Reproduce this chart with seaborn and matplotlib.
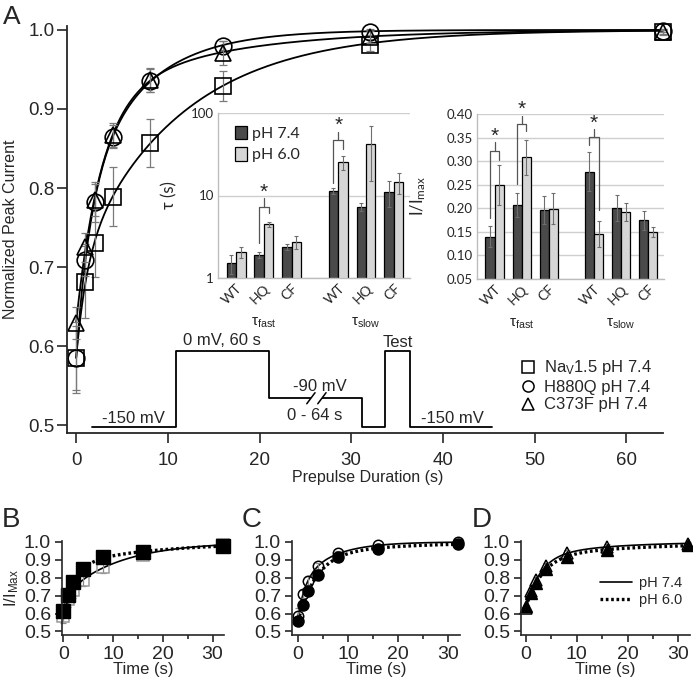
import numpy as np
import pandas as pd
import seaborn as sns
import matplotlib.pyplot as plt
from matplotlib.lines import Line2D
from matplotlib.ticker import MultipleLocator, FixedLocator, FormatStrFormatter, NullLocator

sns.set_style("ticks")
plt.rcParams['font.family'] = ['Liberation Sans', 'DejaVu Sans']
plt.rcParams['mathtext.default'] = 'regular'

# ---- panel A: recovery at pH 7.4 ----
prepulse_t = [0, 1, 2, 4, 8, 16, 32, 64]
nav15_74 = [0.585, 0.681, 0.730, 0.789, 0.857, 0.929, 0.981, 0.997]
nav15_74_err = [0.04, 0.045, 0.043, 0.037, 0.03, 0.019, 0.008, 0.003]
h880q_74 = [0.585, 0.709, 0.782, 0.865, 0.936, 0.980, 0.997, 0.999]
h880q_74_err = [0.045, 0.02, 0.025, 0.015, 0.015, 0.006, 0.004, 0.002]
c373f_74 = [0.629, 0.725, 0.785, 0.867, 0.937, 0.971, 0.991, 0.998]
c373f_74_err = [0.02, 0.018, 0.02, 0.015, 0.015, 0.015, 0.008, 0.003]

# voltage protocol sketch (drawn in panel A data units)
protocol_t = [1.7, 10.9, 10.9, 21.0, 21.0, 31.2, 31.2, 33.7, 33.7, 36.4, 36.4, 45.3]
protocol_level = [0.497, 0.497, 0.594, 0.594, 0.534, 0.534, 0.497, 0.497, 0.594, 0.594, 0.497, 0.497]
break_t = [25.6, 26.8]

# ---- panels B-D: pH 6.0 vs pH 7.4 ----
time_s = [0, 1, 2, 4, 8, 16, 32]
nav15_60 = [0.614, 0.705, 0.776, 0.848, 0.914, 0.941, 0.979]
h880q_60 = [0.557, 0.648, 0.724, 0.814, 0.918, 0.960, 0.990]
c373f_60 = [0.640, 0.715, 0.772, 0.848, 0.918, 0.956, 0.980]

# ---- insets: fit parameters ----
groups = ["WT", "HQ", "CF", "WT", "HQ", "CF"]
tau_74 = [1.52, 1.9, 2.38, 11.3, 7.3, 11.0]
tau_74_err = [0.4, 0.15, 0.18, 1.0, 0.9, 3.8]
tau_60 = [2.07, 4.5, 2.73, 25.5, 42.0, 14.5]
tau_60_err = [0.3, 0.3, 0.5, 5.0, 27.0, 4.0]
amp_74 = [0.140, 0.207, 0.197, 0.278, 0.200, 0.175]
amp_74_err = [0.023, 0.026, 0.030, 0.042, 0.028, 0.020]
amp_60 = [0.250, 0.308, 0.199, 0.146, 0.192, 0.150]
amp_60_err = [0.042, 0.037, 0.033, 0.028, 0.020, 0.010]

slot = [0, 1, 2, 3.67, 4.67, 5.67]
dark, light = '#4a4a4a', '#d6d6d6'


def recovery_fit(t, y):
    # double exponential fit, grid over taus + linear least squares for amplitudes
    t = np.asarray(t, float)
    r = 1 - np.asarray(y, float)
    best = (np.inf, None)
    for tf in np.geomspace(0.3, 10, 50):
        for ts in np.geomspace(1.0, 80, 50):
            if ts <= tf * 1.2:
                continue
            X = np.column_stack([np.exp(-t / tf), np.exp(-t / ts)])
            coef, *_ = np.linalg.lstsq(X, r, rcond=None)
            if (coef < 0).any():
                continue
            err = ((X @ coef - r) ** 2).sum()
            if err < best[0]:
                best = (err, (tf, ts, coef))
    tf, ts, (af, a_s) = best[1]
    return lambda tt: 1 - af * np.exp(-tt / tf) - a_s * np.exp(-tt / ts)


fig = plt.figure(figsize=(6.93, 6.81), dpi=100)

# ================= panel A =================
ax = fig.add_axes([67 / 693, 1 - 433 / 681, 596 / 693, 407 / 681])
tt = np.linspace(0, 64, 400)
for y in [nav15_74, h880q_74, c373f_74]:
    f = recovery_fit(prepulse_t, y)
    sns.lineplot(x=tt, y=f(tt), color='black', lw=1.3, ax=ax)

for y, e, m, ms in [(nav15_74, nav15_74_err, 's', 11), (h880q_74, h880q_74_err, 'o', 12),
                    (c373f_74, c373f_74_err, '^', 12)]:
    ax.errorbar(prepulse_t, y, yerr=e, fmt='none', ecolor='#7a7a7a', elinewidth=0.9,
                capsize=3, capthick=0.9, clip_on=False)
    ax.plot(prepulse_t, y, ls='none', marker=m, ms=ms, mfc='none', mec='black', mew=1.2,
            clip_on=False)

ax.plot(protocol_t, protocol_level, color='black', lw=1.3)
# axis-break marks on the -90 mV step
ax.plot(break_t, [0.534, 0.534], color='white', lw=3, solid_capstyle='butt')
for bx in break_t:
    ax.plot([bx - 0.45, bx + 0.45], [0.527, 0.541], color='black', lw=1.1)
ax.text(6.2, 0.5025, "-150 mV", ha='center', va='baseline', fontsize=12)
ax.text(15.9, 0.601, "0 mV, 60 s", ha='center', va='baseline', fontsize=12)
ax.text(26.6, 0.5435, "-90 mV", ha='center', va='baseline', fontsize=12)
ax.text(26.0, 0.506, "0 - 64 s", ha='center', va='baseline', fontsize=12)
ax.text(35.1, 0.599, "Test", ha='center', va='baseline', fontsize=12)
ax.text(41.0, 0.5025, "-150 mV", ha='center', va='baseline', fontsize=12)

ax.set_xlim(-1, 64)
ax.set_ylim(0.49, 1.005)
ax.xaxis.set_major_locator(FixedLocator([0, 10, 20, 30, 40, 50, 60]))
ax.yaxis.set_major_locator(FixedLocator([0.5, 0.6, 0.7, 0.8, 0.9, 1.0]))
ax.yaxis.set_major_formatter(FormatStrFormatter('%.1f'))
ax.tick_params(length=7, width=1.2, labelsize=13.5, pad=7)
ax.tick_params(axis='y', pad=2)
for s in ['left', 'bottom']:
    ax.spines[s].set_linewidth(1.3)
sns.despine(ax=ax)
ax.set_xlabel("Prepulse Duration (s)", fontsize=11.5)
ax.set_ylabel("Normalized Peak Current", fontsize=11.5)
ax.xaxis.set_label_coords(0.505, -0.092)
ax.yaxis.set_label_coords(-0.083, 0.5)

handles = [Line2D([], [], ls='none', marker=m, ms=8, mfc='none', mec='black', mew=1.1)
           for m in ['s', 'o', '^']]
fig.legend(handles, ["Na$_V$1.5 pH 7.4", "H880Q pH 7.4", "C373F pH 7.4"],
           loc='upper left', bbox_to_anchor=(511 / 693, 1 - 350 / 681), frameon=False,
           fontsize=12, handlelength=1.0, handletextpad=0.5, labelspacing=0.15,
           borderpad=0)
fig.text(3 / 693, 1 - 24 / 681, "A", fontsize=19)


# ================= insets =================
def bar_inset(rect, v74, e74, v60, e60, logy):
    a = fig.add_axes(rect)
    a.set_facecolor('none')
    df = pd.DataFrame({'slot': slot * 2, 'value': v74 + v60,
                       'pH': ['pH 7.4'] * 6 + ['pH 6.0'] * 6})
    sns.barplot(data=df, x='slot', y='value', hue='pH', native_scale=True, width=0.68,
                palette=[dark, light], saturation=1, edgecolor='black', linewidth=0.9,
                errorbar=None, ax=a, zorder=2)
    if logy:
        a.set_yscale('log')
    centers = []
    for cont, err in zip(a.containers[:2], [e74, e60]):
        xs = [p.get_x() + p.get_width() / 2 for p in cont]
        ys = [p.get_y() + p.get_height() for p in cont]
        a.errorbar(xs, ys, yerr=err, fmt='none', ecolor='#6e6e6e', elinewidth=0.8,
                   capsize=1.5, capthick=0.8, zorder=3)
        centers.append(xs)
    a.set_xlim(-0.65, 6.25)
    a.xaxis.set_major_locator(FixedLocator(slot))
    a.set_xticklabels(groups, rotation=45, ha='right', rotation_mode='anchor')
    a.tick_params(axis='x', length=0, pad=3, labelsize=10, labelfontfamily='Lato')
    a.tick_params(axis='y', length=0, pad=3, labelsize=9.5, labelfontfamily='Lato')
    a.grid(axis='y', color='#cfcfcf', lw=1.0, zorder=0)
    a.set_axisbelow(True)
    sns.despine(ax=a)
    for s in ['left', 'bottom']:
        a.spines[s].set_color('#bdbdbd')
        a.spines[s].set_linewidth(1.0)
    a.set_xlabel('')
    for x, lab in [(1, "τ$_{fast}$"), (4.67, "τ$_{slow}$")]:
        a.text(x, -0.27, lab, transform=a.get_xaxis_transform(), ha='center',
               va='center', fontsize=11)
    return a, centers


def bracket(a, xl, xr, y_left, y_right, y_top, y_stem, y_star):
    kw = dict(color='#555555', lw=0.9, clip_on=False, zorder=4)
    a.plot([xl, xl, xr, xr], [y_left, y_top, y_top, y_right], **kw)
    xm = (xl + xr) / 2
    a.plot([xm, xm], [y_top, y_stem], **kw)
    a.text(xm, y_star, "*", ha='center', va='center', fontsize=15, clip_on=False)


ax1, c1 = bar_inset([218 / 693, 1 - 278 / 681, 192 / 693, 165 / 681],
                    tau_74, tau_74_err, tau_60, tau_60_err, True)
ax1.set_ylim(1, 100)
ax1.yaxis.set_major_locator(FixedLocator([1, 10, 100]))
ax1.yaxis.set_minor_locator(NullLocator())
ax1.set_yticklabels(["1", "10", "100"])
ax1.set_ylabel("τ (s)", fontsize=12, family=['Lato', 'DejaVu Sans'])
ax1.yaxis.set_label_coords(-0.21, 0.5)
ax1.legend(loc='upper left', bbox_to_anchor=(0.02, 1.0), frameon=False,
           prop={'family': ['Lato', 'DejaVu Sans'], 'size': 11.5}, handlelength=0.8,
           handleheight=0.9, handletextpad=0.3, labelspacing=0.4, borderpad=0.3)
bracket(ax1, c1[0][1], c1[1][1], 2.65, 6.1, 7.3, 9.3, 10.8)
bracket(ax1, c1[0][3], c1[1][3], 14.2, 36.6, 47, 58.8, 70)

ax2, c2 = bar_inset([477 / 693, 1 - 279 / 681, 187 / 693, 165 / 681],
                    amp_74, amp_74_err, amp_60, amp_60_err, False)
ax2.set_ylim(0.05, 0.40)
ax2.yaxis.set_major_locator(MultipleLocator(0.05))
ax2.yaxis.set_major_formatter(FormatStrFormatter('%.2f'))
ax2.set_ylabel("I/I$_{max}$", fontsize=12, family=['Lato', 'DejaVu Sans'])
ax2.yaxis.set_label_coords(-0.26, 0.5)
ax2.get_legend().remove()
bracket(ax2, c2[0][0], c2[1][0], 0.179, 0.303, 0.322, 0.34, 0.353)
bracket(ax2, c2[0][1], c2[1][1], 0.252, 0.363, 0.379, 0.396, 0.409)
bracket(ax2, c2[0][3], c2[1][3], 0.335, 0.197, 0.351, 0.368, 0.380)


# ================= panels B, C, D =================
def small_panel(rect, x0, letter, letter_x, y74, e74, y60, marker, open_col, ms_open, ms_fill):
    a = fig.add_axes(rect)
    tt = np.linspace(0, 32, 300)
    f74 = recovery_fit(time_s, y74)
    f60 = recovery_fit(time_s, y60)
    sns.lineplot(x=tt, y=f74(tt), color='black', lw=1.2, ax=a, label='pH 7.4')
    sns.lineplot(x=tt, y=f60(tt), color='black', lw=2.4, ls=(0, (0.8, 0.8)), ax=a,
                 label='pH 6.0')
    a.errorbar(time_s, y74, yerr=e74, fmt='none', ecolor='#8a8a8a', elinewidth=0.9,
               capsize=2, capthick=0.9, clip_on=False)
    a.plot(time_s, y74, ls='none', marker=marker, ms=ms_open, mfc='none', mec=open_col,
           mew=1.1, clip_on=False)
    a.plot(time_s, y60, ls='none', marker=marker, ms=ms_fill, mfc='black', mec='black',
           clip_on=False)
    a.set_xlim(x0, 32.3)
    a.set_ylim(0.48, 1.005)
    a.xaxis.set_major_locator(FixedLocator([0, 10, 20, 30]))
    a.xaxis.set_minor_locator(FixedLocator([5, 15, 25]))
    a.yaxis.set_major_locator(FixedLocator([0.5, 0.6, 0.7, 0.8, 0.9, 1.0]))
    a.yaxis.set_major_formatter(FormatStrFormatter('%.1f'))
    a.tick_params(which='major', length=5, width=1.2, labelsize=14, pad=3)
    a.tick_params(which='minor', length=3, width=1.2)
    for s in ['left', 'bottom']:
        a.spines[s].set_linewidth(1.2)
    sns.despine(ax=a)
    a.set_xlabel("Time (s)", fontsize=12)
    a.xaxis.set_label_coords(0.5, -0.29)
    fig.text(letter_x / 693, 1 - 527 / 681, letter, fontsize=20)
    return a


axB = small_panel([62 / 693, 1 - 635 / 681, 162 / 693, 94 / 681], -0.3, "B", 2,
                  nav15_74[:7], nav15_74_err[:7], nav15_60, 's', '#9a9a9a', 9, 9.5)
axB.set_ylabel("I/I$_{Max}$", fontsize=12, labelpad=2)
axB.get_legend().remove()
axC = small_panel([292 / 693, 1 - 635 / 681, 168 / 693, 94 / 681], -1.2, "C", 242,
                  h880q_74[:7], h880q_74_err[:7], h880q_60, 'o', 'black', 7.5, 8)
axC.get_legend().remove()
axD = small_panel([521 / 693, 1 - 635 / 681, 169 / 693, 94 / 681], -1.0, "D", 472,
                  c373f_74[:7], c373f_74_err[:7], c373f_60, '^', 'black', 9, 9)
axD.legend(loc='center right', bbox_to_anchor=(1.0, 0.46), frameon=False, fontsize=10.5,
           handlelength=2.2, handletextpad=0.5, labelspacing=0.2, borderpad=0)

fig.savefig("out.png", dpi=100)
